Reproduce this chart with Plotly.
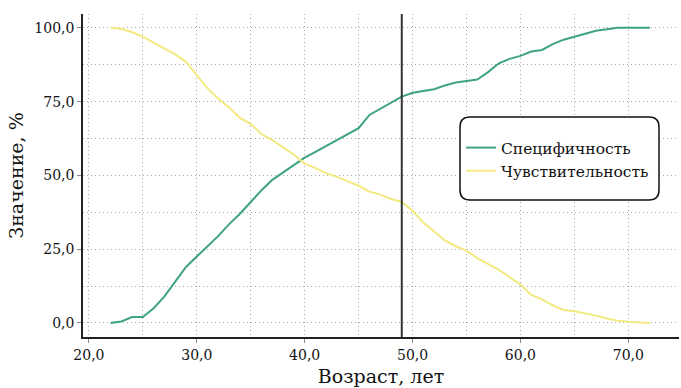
import plotly.graph_objects as go

ages = list(range(22, 73))
specificity = [0, 0.5, 2, 2, 5, 9, 14, 19, 22.5, 26, 29.5, 33.5, 37, 41, 45, 48.5, 51, 53.5, 56, 58,
               60, 62, 64, 66, 70.5, 72.5, 74.5, 76.7, 78, 78.5, 79.2, 80.5, 81.5, 82, 82.5, 85, 88, 89.5,
               90.5, 92, 92.5, 94.5, 96, 97, 98, 99, 99.5, 100, 100, 100, 100]
sensitivity = [100, 99.7, 98.5, 97, 95, 93, 91, 88.5, 84, 79.5, 76, 73, 69.5, 67.5, 64, 62, 59.5, 57, 54,
               52.5, 50.7, 49.5, 48, 46.5, 44.5, 43.5, 42, 41, 38, 34, 31, 28, 26, 24.5, 22, 20, 18, 15.5,
               13, 9.5, 8, 6, 4.4, 4, 3.3, 2.5, 1.5, 0.8, 0.4, 0.2, 0]
cutoff = 49
xticks = [20, 30, 40, 50, 60, 70]
yticks = [0, 25, 50, 75, 100]

font = "DejaVu Serif"
fig = go.Figure()
fig.add_trace(go.Scatter(x=ages, y=specificity, mode="lines", name="Специфичность",
                         line=dict(color="#3fa283", width=2)))
fig.add_trace(go.Scatter(x=ages, y=sensitivity, mode="lines", name="Чувствительность",
                         line=dict(color="#f2ea80", width=2)))
fig.add_vline(x=cutoff, line=dict(color="#333333", width=2))

gcol = "#a8a8a8"
gdash = "1px,3px"
grid = dict(showgrid=True, gridcolor=gcol, griddash=gdash, gridwidth=1)
fig.update_xaxes(range=[19.45, 74.7], tickvals=xticks, ticktext=[f"{v},0" for v in xticks],
                 showline=True, linecolor="#222", linewidth=1.5, ticks="outside", ticklen=4,
                 tickcolor="#888", zeroline=False,
                 minor=dict(dtick=5, tick0=0, showgrid=True, gridcolor=gcol, griddash=gdash),
                 title=dict(text="Возраст, лет", font=dict(size=19, family=font, color="#111"), standoff=8),
                 tickfont=dict(size=14, family=font, color="#111"), **grid)
fig.update_yaxes(range=[-4.75, 104.7], tickvals=yticks, ticktext=[f"{v},0" for v in yticks],
                 showline=True, linecolor="#222", linewidth=1.5, ticks="outside", ticklen=4,
                 tickcolor="#888", zeroline=False,
                 minor=dict(dtick=12.5, tick0=0, showgrid=True, gridcolor=gcol, griddash=gdash),
                 title=dict(text="Значение, %", font=dict(size=19, family=font, color="#111"), standoff=6),
                 tickfont=dict(size=14, family=font, color="#111"), **grid)

# rounded legend frame
x0, x1, y0, y1, r = 460, 659, 117, 200, 10
def px(x):
    return (x - 83) / 596
def py(y):
    return (337 - y) / 323
path = " ".join([
    f"M {px(x0 + r)},{py(y0)}",
    f"L {px(x1 - r)},{py(y0)}",
    f"Q {px(x1)},{py(y0)} {px(x1)},{py(y0 + r)}",
    f"L {px(x1)},{py(y1 - r)}",
    f"Q {px(x1)},{py(y1)} {px(x1 - r)},{py(y1)}",
    f"L {px(x0 + r)},{py(y1)}",
    f"Q {px(x0)},{py(y1)} {px(x0)},{py(y1 - r)}",
    f"L {px(x0)},{py(y0 + r)}",
    f"Q {px(x0)},{py(y0)} {px(x0 + r)},{py(y0)}",
    "Z"])
fig.add_shape(type="path", xref="paper", yref="paper", line=dict(color="#111", width=1.5),
              fillcolor="white", layer="above", path=path)

fig.update_layout(width=681, height=388, margin=dict(l=83, r=2, t=14, b=51),
                  plot_bgcolor="white", paper_bgcolor="white",
                  legend=dict(x=px(461), y=py(131), xanchor="left", yanchor="top",
                              bgcolor="rgba(0,0,0,0)", font=dict(size=15.5, family=font, color="#111"),
                              tracegroupgap=0, itemwidth=30))
fig.write_html("out.html")
